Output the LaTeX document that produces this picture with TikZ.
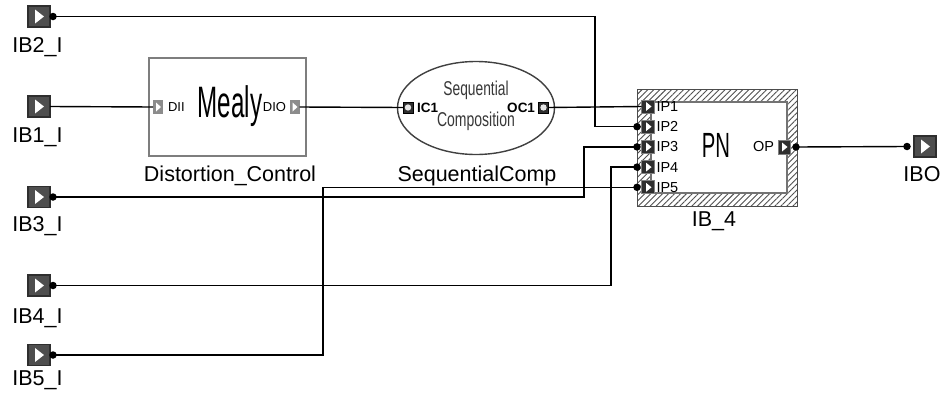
\documentclass[tikz,border=0pt]{standalone}
\usepackage{fontspec}
\usepackage{graphicx}
\setmainfont{Liberation Sans}
\usetikzlibrary{patterns.meta,shapes.geometric}
\definecolor{icondark}{HTML}{2E2E2E}
\definecolor{iconfill}{HTML}{4E4E4E}
\definecolor{portlight}{HTML}{8C8C8C}
\definecolor{boxgray}{HTML}{7E7E7E}
\definecolor{textgray}{HTML}{383838}
\definecolor{hatch}{HTML}{505050}
\begin{document}
\begin{tikzpicture}[x=1pt,y=-1pt,
  every node/.style={inner sep=0pt,outer sep=0pt},
  wire/.style={line width=1.4pt,black},
  lbl/.style={font=\fontsize{21.5}{24}\selectfont,anchor=base},
  plbl/.style={font=\fontsize{14.5}{16}\selectfont},
  slbl/.style={font=\fontsize{13}{15}\selectfont},
  dotst/.style={circle,fill=black,minimum size=7.5pt},
  bigicon/.style={draw=icondark,line width=1.6pt,fill=iconfill,
    minimum width=22pt,minimum height=21pt,
    path picture={\fill[white]
      ([xshift=-4pt,yshift=7pt]path picture bounding box.center) --
      ([xshift=5pt]path picture bounding box.center) --
      ([xshift=-4pt,yshift=-7pt]path picture bounding box.center) -- cycle;}},
  pnport/.style={draw=gray,line width=0.8pt,fill=icondark,
    minimum width=13pt,minimum height=13pt,
    path picture={\fill[white]
      ([xshift=-2pt,yshift=4.5pt]path picture bounding box.center) --
      ([xshift=3.5pt]path picture bounding box.center) --
      ([xshift=-2pt,yshift=-4.5pt]path picture bounding box.center) -- cycle;}},
  lport/.style={fill=portlight,minimum width=10pt,minimum height=14pt,
    path picture={\fill[white]
      ([xshift=-2pt,yshift=4.5pt]path picture bounding box.center) --
      ([xshift=3pt]path picture bounding box.center) --
      ([xshift=-2pt,yshift=-4.5pt]path picture bounding box.center) -- cycle;}},
  cport/.style={draw=black,line width=0.8pt,fill=icondark,
    minimum width=10pt,minimum height=11pt,
    path picture={\fill[gray!20] (path picture bounding box.center) circle (3.2pt);}},
]
\useasboundingbox (0,0) rectangle (945,399);
\fill[white] (0,0) rectangle (945,399);

% ---- input icons
\node[bigicon] (ib2) at (39,16.5) {};
\node[bigicon] (ib1) at (39,106.5) {};
\node[bigicon] (ib3) at (39,197) {};
\node[bigicon] (ib4) at (39,285.5) {};
\node[bigicon] (ib5) at (39,355) {};
\node[lbl] (ib2l) at (37.5,52) {IB2\_I};
\node[lbl] (ib1l) at (37.5,142) {IB1\_I};
\node[lbl] (ib3l) at (37.5,231) {IB3\_I};
\node[lbl] (ib4l) at (37.5,323) {IB4\_I};
\node[lbl] (ib5l) at (37.5,385) {IB5\_I};
\node[dotst] (d2) at (53,16.5) {};
\node[dotst] (d3) at (53,197) {};
\node[dotst] (d4) at (53,285.5) {};
\node[dotst] (d5) at (53,355) {};

% ---- Mealy block
\node[draw=boxgray,line width=2pt,fill=white,minimum width=157pt,minimum height=98pt] (mealy) at (227.5,107) {};
\node[anchor=base,font=\fontsize{44}{48}\selectfont] (mealyt) at (230,117) {\scalebox{0.55}[1]{Mealy}};
\node[lport] (dii) at (158,107) {};
\node[lport] (dio) at (294.5,107) {};
\node[slbl,anchor=west] (diil) at (168,107) {DII};
\node[slbl,anchor=east] (diol) at (286,107) {DIO};
\node[lbl] (mealyl) at (230,181) {Distortion\_Control};

% ---- Sequential composition
\node[draw=black!75,line width=1.4pt,ellipse,fill=white,minimum width=157pt,minimum height=93pt] (seq) at (476,108) {};
\node[anchor=base,font=\fontsize{20}{22}\selectfont,text=textgray] (seq1) at (476,95.5) {\scalebox{0.69}[1]{Sequential}};
\node[anchor=base,font=\fontsize{20}{22}\selectfont,text=textgray] (seq2) at (476,126) {\scalebox{0.70}[1]{Composition}};
\node[cport] (ic1) at (408,107.5) {};
\node[cport] (oc1) at (543.5,107.5) {};
\node[font=\fontsize{13.5}{15}\selectfont\bfseries,anchor=west] (ic1l) at (417,107.5) {IC1};
\node[font=\fontsize{13.5}{15}\selectfont\bfseries,anchor=east] (oc1l) at (535,107.5) {OC1};
\node[lbl] (seql) at (477,181) {SequentialComp};

% ---- PN block
\fill[white] (637,89) rectangle (797,206);
\fill[pattern={Lines[angle=45,distance=4.2pt,line width=0.9pt]},pattern color=hatch] (637,89) rectangle (797,206);
\node[draw=black!70,line width=1pt,minimum width=160pt,minimum height=117pt] (pn) at (717,147.5) {};
\draw[black!55,line width=1.2pt,fill=white] (651,102) rectangle (787,193);
\node[anchor=base,font=\fontsize{35}{38}\selectfont] (pnt) at (716,157) {\scalebox{0.58}[1]{PN}};
\foreach \i/\yy in {1/106.5,2/126.7,3/146.9,4/167.1,5/187.3}{
  \node[pnport] (ip\i) at (648,\yy) {};
  \node[plbl,anchor=west] (ip\i l) at (656.5,\yy) {IP\i};
}
\node[dotst] (ip2d) at (637,126.7) {};
\node[dotst] (ip3d) at (637,146.9) {};
\node[dotst] (ip4d) at (637,167.1) {};
\node[dotst] (ip5d) at (637,187.3) {};
\node[pnport,minimum width=12pt,minimum height=14pt] (op) at (784,147) {};
\node[plbl,anchor=east] (opl) at (774,147) {OP};
\node[dotst] (opd) at (796,147) {};
\node[lbl] (pnl) at (714,226) {IB\_4};

% ---- output
\node[bigicon] (ibo) at (925,146.5) {};
\node[dotst] (ibod) at (907,146.5) {};
\node[lbl] (ibol) at (922,181) {IBO};

% ---- wires
\coordinate (b2) at (595,60);
\coordinate (b3) at (584,170);
\coordinate (b4) at (611,220);
\coordinate (b5) at (323,270);
\draw[wire] (d2.center) -| (b2) |- (ip2d.center);
\draw[wire] (ib1.east) -- (dii.west);
\draw[wire] (dio.east) -- (ic1.west);
\draw[wire] (oc1.east) -- (ip1.west);
\draw[wire] (d3.center) -| (b3) |- (ip3d.center);
\draw[wire] (d4.center) -| (b4) |- (ip4d.center);
\draw[wire] (d5.center) -| (b5) |- (ip5d.center);
\draw[wire] (opd.center) -- (ibod.center);
\end{tikzpicture}
\end{document}
